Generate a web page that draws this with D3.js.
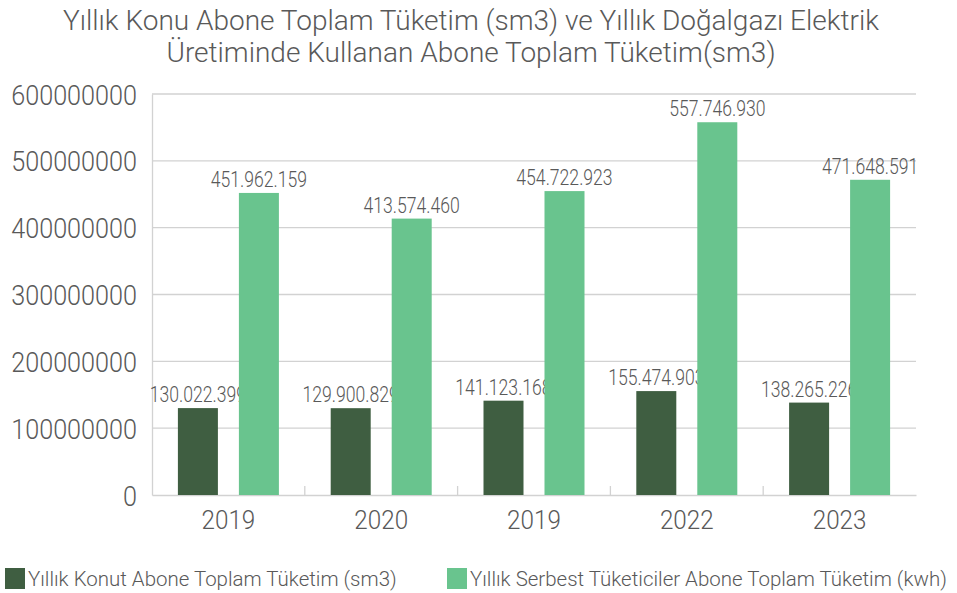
<!DOCTYPE html>
<html>
<head>
<meta charset="utf-8">
<script src="https://cdn.jsdelivr.net/npm/d3@7"></script>
<style>
  body { margin: 0; background: #fff; }
  text { font-family: Roboto, "Noto Sans", sans-serif; fill: #595959; }
</style>
</head>
<body>
<div id="chart"></div>
<script>
// data
var years = ["2019", "2020", "2019 ", "2022", "2023"];
var konut = [130022399, 129900829, 141123168, 155474903, 138265226];
var serbest = [451962159, 413574460, 454722923, 557746930, 471648591];
var seriesNames = ["Yıllık Konut Abone Toplam Tüketim (sm3)", "Yıllık Serbest Tüketiciler Abone Toplam Tüketim (kwh)"];
var yTicks = [0, 100000000, 200000000, 300000000, 400000000, 500000000, 600000000];
var titleLines = ["Yıllık Konu Abone Toplam Tüketim (sm3) ve Yıllık Doğalgazı Elektrik", "Üretiminde Kullanan Abone Toplam Tüketim(sm3)"];

var W = 957, H = 593;
var margin = {top: 94, right: 41, bottom: 98, left: 152},
	width = W - margin.left - margin.right,
	height = H - margin.top - margin.bottom;

var colors = ["#3f5e41", "#69c48e"];

// squeeze text horizontally, the original uses a narrow font
function condense(sel, k) {
	sel.each(function() {
		var len = this.getComputedTextLength();
		d3.select(this).attr("textLength", len * k).attr("lengthAdjust", "spacingAndGlyphs");
	});
}

var svg = d3.select("#chart").append("svg")
	.attr("width", W)
	.attr("height", H);

// title
svg.append("g").selectAll("text")
	.data(titleLines)
	.enter().append("text")
		.attr("x", 471)
		.attr("y", function(d, i) { return 30 + i * 32; })
		.attr("text-anchor", "middle")
		.style("font-size", "28px")
		.style("font-weight", "300")
		.text(function(d) { return d; });

var g = svg.append("g")
	.attr("transform", "translate(" + margin.left + "," + margin.top + ")");

var x = d3.scaleBand()
	.domain(years)
	.range([0, width]);

var y = d3.scaleLinear()
	.domain([0, 600000000])
	.range([height, 0]);

// gridlines
g.append("g")
	.selectAll("line")
	.data(yTicks.slice(1))
	.enter().append("line")
		.attr("x1", 0)
		.attr("x2", width)
		.attr("y1", function(d) { return y(d); })
		.attr("y2", function(d) { return y(d); })
		.attr("stroke", "#d2d2d2")
		.attr("stroke-width", 1.3);

// y axis
var yAxis = g.append("g")
	.call(d3.axisLeft(y).tickValues(yTicks).tickSize(0).tickPadding(15).tickFormat(d3.format("d")));
yAxis.select(".domain").attr("stroke", "#d2d2d2").attr("stroke-width", 1.3);
yAxis.selectAll("text").style("font-size", "28px").style("font-weight", "300")
	.attr("dy", "0.36em").call(condense, 0.9);

// x axis
var xAxis = g.append("g")
	.attr("transform", "translate(0," + height + ")")
	.call(d3.axisBottom(x).tickSize(0).tickPadding(16).tickFormat(function(d) { return d.trim(); }));
xAxis.select(".domain").attr("stroke", "#d2d2d2").attr("stroke-width", 1.3);
xAxis.selectAll("text").style("font-size", "25px").style("font-weight", "300").call(condense, 0.97);

// boundary ticks on x axis
g.append("g")
	.selectAll("line")
	.data(years.slice(1))
	.enter().append("line")
		.attr("x1", function(d) { return x(d); })
		.attr("x2", function(d) { return x(d); })
		.attr("y1", height)
		.attr("y2", height - 9)
		.attr("stroke", "#d2d2d2")
		.attr("stroke-width", 1.3);

var barW = 40, gap = 21;
var series = [konut, serbest];

series.forEach(function(vals, s) {
	var off = x.bandwidth() / 2 + (s === 0 ? -(gap / 2 + barW) : gap / 2);
	var grp = g.append("g");
	grp.selectAll("rect")
		.data(vals)
		.enter().append("rect")
			.attr("x", function(d, i) { return x(years[i]) + off; })
			.attr("y", function(d) { return y(d); })
			.attr("width", barW)
			.attr("height", function(d) { return height - y(d); })
			.attr("fill", colors[s]);
	grp.selectAll("text")
		.data(vals)
		.enter().append("text")
			.attr("x", function(d, i) { return x(years[i]) + off + barW / 2; })
			.attr("y", function(d) { return y(d) - 6; })
			.attr("text-anchor", "middle")
			.style("font-size", "22px")
			.style("font-weight", "300")
			.text(function(d) { return d3.format(",")(d).replace(/,/g, "."); })
			.call(condense, 0.8);
});

// legend
var legendX = [5, 447];
var leg = svg.append("g").selectAll("g")
	.data(seriesNames)
	.enter().append("g")
		.attr("transform", function(d, i) { return "translate(" + legendX[i] + ",568)"; });
leg.append("rect")
	.attr("width", 20)
	.attr("height", 21)
	.attr("fill", function(d, i) { return colors[i]; });
leg.append("text")
	.attr("x", 23)
	.attr("y", 18)
	.style("font-size", "21px")
	.style("font-weight", "300")
	.text(function(d) { return d; })
	.call(condense, 0.975);
</script>
</body>
</html>
